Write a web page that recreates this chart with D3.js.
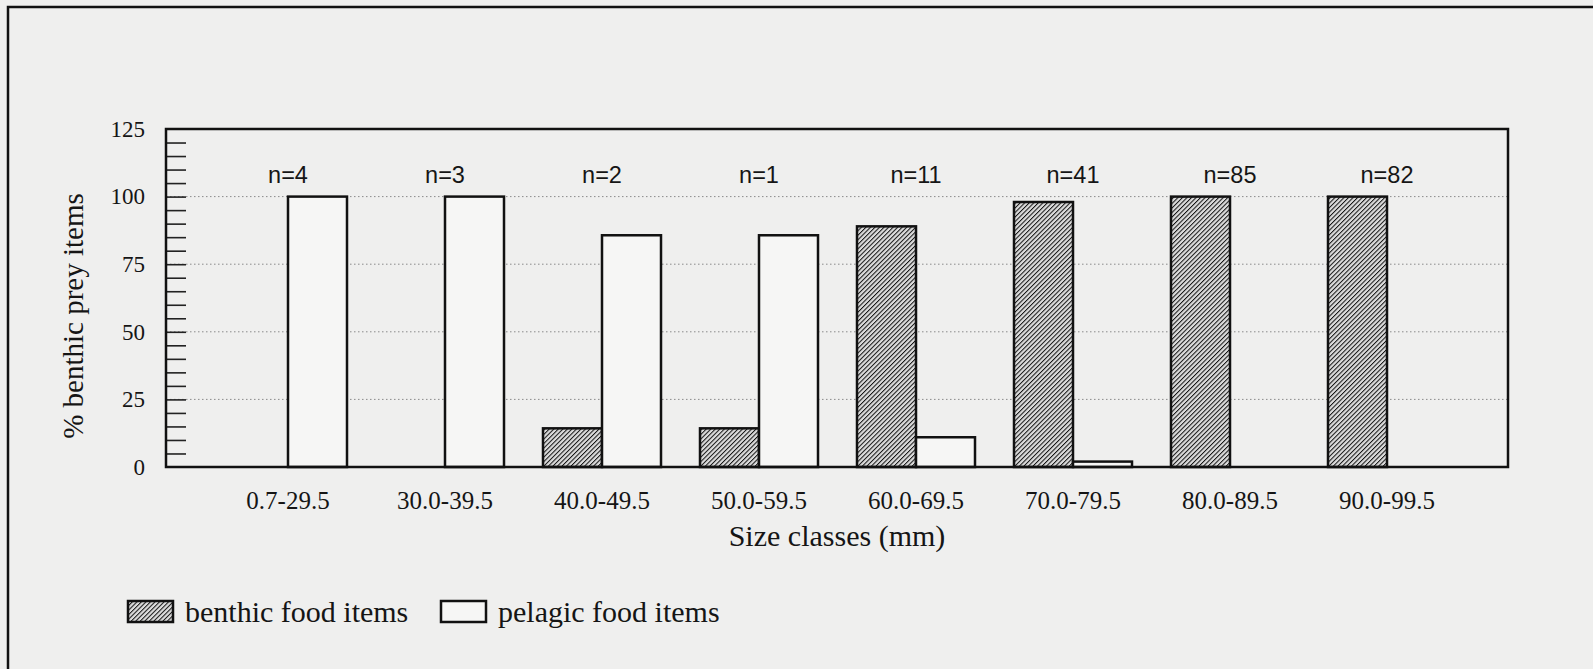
<!DOCTYPE html>
<html>
<head>
<meta charset="utf-8">
<script src="https://cdn.jsdelivr.net/npm/d3@7"></script>
<style>
  body { margin: 0; background: #efefee; }
  svg { display: block; }
</style>
</head>
<body>
<svg id="chart"></svg>
<script>
const width = 1593, height = 669;

// Data
const sizeClasses = ["0.7-29.5", "30.0-39.5", "40.0-49.5", "50.0-59.5", "60.0-69.5", "70.0-79.5", "80.0-89.5", "90.0-99.5"];
const benthic = [0, 0, 14.3, 14.3, 89, 98, 100, 100];
const pelagic = [100, 100, 85.7, 85.7, 11, 2, 0, 0];
const sampleSizes = ["n=4", "n=3", "n=2", "n=1", "n=11", "n=41", "n=85", "n=82"];
const yTicks = [0, 25, 50, 75, 100, 125];
const seriesNames = ["benthic food items", "pelagic food items"];

const plot = { left: 166, right: 1508, top: 129, bottom: 467 };

const svg = d3.select("#chart")
    .attr("width", width)
    .attr("height", height)
    .attr("viewBox", [0, 0, width, height]);

// hatch pattern for the benthic bars
const defs = svg.append("defs");
const pat = defs.append("pattern")
    .attr("id", "hatch")
    .attr("patternUnits", "userSpaceOnUse")
    .attr("width", 3.2)
    .attr("height", 3.2)
    .attr("patternTransform", "rotate(45)");
pat.append("rect").attr("width", 3.2).attr("height", 3.2).attr("fill", "#dcdcdc");
pat.append("line")
    .attr("x1", 0).attr("y1", 0).attr("x2", 0).attr("y2", 3.2)
    .attr("stroke", "#111")
    .attr("stroke-width", 2);

// outer border of the figure
svg.append("rect")
    .attr("x", 8).attr("y", 7)
    .attr("width", width + 20).attr("height", height + 20)
    .attr("fill", "#efefee")
    .attr("stroke", "#111")
    .attr("stroke-width", 2.5);

// scales
const x = d3.scaleBand().domain(sizeClasses).range([209.5, 209.5 + 157 * 8]);
const y = d3.scaleLinear().domain([0, 125]).range([plot.bottom, plot.top]);
const xSub = d3.scaleBand().domain(seriesNames).range([-59, 59]);
const center = c => x(c) + x.bandwidth() / 2;

// gridlines
svg.append("g")
    .selectAll("line")
    .data(yTicks.filter(d => d > 0 && d < 125))
    .join("line")
    .attr("x1", plot.left)
    .attr("x2", plot.right)
    .attr("y1", d => y(d))
    .attr("y2", d => y(d))
    .attr("stroke", "#8a8a8a")
    .attr("stroke-width", 1)
    .attr("stroke-dasharray", "1.5,2.5");

// minor + major ticks inside the left edge
svg.append("g")
    .attr("transform", `translate(${plot.left},0)`)
    .call(d3.axisRight(y).tickValues(d3.range(5, 125, 5)).tickSize(20).tickFormat(""))
    .call(g => g.select(".domain").remove())
    .call(g => g.selectAll("line").attr("stroke", "#222").attr("stroke-width", 1.6));

// y tick labels
svg.append("g")
    .attr("transform", `translate(${plot.left},0)`)
    .call(d3.axisLeft(y).tickValues(yTicks).tickSize(0).tickPadding(21))
    .call(g => g.select(".domain").remove())
    .call(g => g.selectAll("text")
        .attr("font-family", "Liberation Serif, Times New Roman, serif")
        .attr("font-size", 23)
        .attr("fill", "#151515"));

// bars
const groups = svg.append("g")
    .selectAll("g")
    .data(sizeClasses)
    .join("g")
    .attr("transform", d => `translate(${center(d)},0)`);

groups.append("rect")
    .attr("x", xSub(seriesNames[0]))
    .attr("width", xSub.bandwidth())
    .attr("y", (d, i) => y(benthic[i]))
    .attr("height", (d, i) => y(0) - y(benthic[i]))
    .attr("fill", "url(#hatch)")
    .attr("stroke", "#111")
    .attr("stroke-width", 2.5);

groups.append("rect")
    .attr("x", xSub(seriesNames[1]))
    .attr("width", xSub.bandwidth())
    .attr("y", (d, i) => y(pelagic[i]))
    .attr("height", (d, i) => y(0) - y(pelagic[i]))
    .attr("fill", "#f6f6f5")
    .attr("stroke", "#111")
    .attr("stroke-width", 2.5);

// n labels
groups.append("text")
    .attr("x", 0)
    .attr("y", 183)
    .attr("text-anchor", "middle")
    .attr("font-family", "Liberation Sans, Arial, sans-serif")
    .attr("font-size", 23.5)
    .attr("fill", "#151515")
    .text((d, i) => sampleSizes[i]);

// plot frame
svg.append("rect")
    .attr("x", plot.left).attr("y", plot.top)
    .attr("width", plot.right - plot.left)
    .attr("height", plot.bottom - plot.top)
    .attr("fill", "none")
    .attr("stroke", "#111")
    .attr("stroke-width", 2.5);

// x tick labels
svg.append("g")
    .attr("transform", `translate(0,${plot.bottom})`)
    .call(d3.axisBottom(x).tickSize(0).tickPadding(24))
    .call(g => g.select(".domain").remove())
    .call(g => g.selectAll("text")
        .attr("font-family", "Liberation Serif, Times New Roman, serif")
        .attr("font-size", 25)
        .attr("fill", "#151515"));

// axis titles
svg.append("text")
    .attr("x", (plot.left + plot.right) / 2)
    .attr("y", 546)
    .attr("text-anchor", "middle")
    .attr("font-family", "Liberation Serif, Times New Roman, serif")
    .attr("font-size", 30)
    .attr("fill", "#151515")
    .text("Size classes (mm)");

svg.append("text")
    .attr("transform", "translate(83,316) rotate(-90)")
    .attr("text-anchor", "middle")
    .attr("font-family", "Liberation Serif, Times New Roman, serif")
    .attr("font-size", 29)
    .attr("fill", "#151515")
    .text("% benthic prey items");

// legend
const legendX = [128, 441];
const legend = svg.append("g")
    .selectAll("g")
    .data(seriesNames)
    .join("g")
    .attr("transform", (d, i) => `translate(${legendX[i]},601)`);

legend.append("rect")
    .attr("width", 45)
    .attr("height", 21)
    .attr("fill", (d, i) => i === 0 ? "url(#hatch)" : "#f6f6f5")
    .attr("stroke", "#111")
    .attr("stroke-width", 2.5);

legend.append("text")
    .attr("x", 57)
    .attr("y", 21)
    .attr("font-family", "Liberation Serif, Times New Roman, serif")
    .attr("font-size", 30)
    .attr("fill", "#151515")
    .text(d => d);
</script>
</body>
</html>
